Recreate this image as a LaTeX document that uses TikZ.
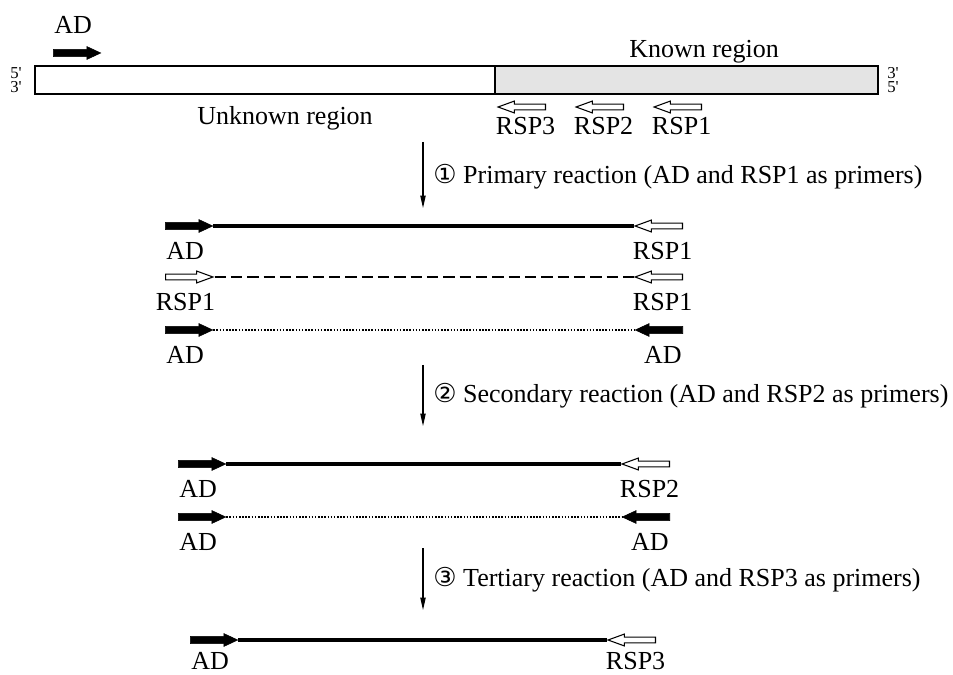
\documentclass[tikz,border=0pt]{standalone}
\usepackage{fontspec}
\setmainfont{Liberation Serif}
\newfontfamily\circfont{DejaVu Sans}
\definecolor{KnownGray}{HTML}{E4E4E4}
\usetikzlibrary{positioning,shapes.arrows,arrows.meta}

\begin{document}
\begin{tikzpicture}[x=0.02cm, y=-0.02cm,
      font=\fontsize{14.8}{17}\selectfont,
      fp/.style={single arrow, draw=black, fill=black, line width=0.3pt, inner xsep=0pt,
        inner ysep=1.9pt, minimum height=27pt, single arrow head extend=1.6pt,
        single arrow tip angle=50, anchor=tail},
      op/.style={single arrow, draw=black, fill=white, line width=0.6pt, inner xsep=0pt,
        inner ysep=1.3pt, minimum height=27pt, single arrow head extend=1.8pt,
        single arrow tip angle=40, anchor=tail},
      rev/.style={shape border rotate=180},
      t/.style={inner sep=0pt},
      ends/.style={inner sep=0pt, align=center, font=\fontsize{9.5}{8}\selectfont},
      full/.style={line width=2.6pt},
      half/.style={line width=1.1pt, dash pattern=on 6.5pt off 2.8pt},
      dots/.style={line width=0.9pt, dash pattern=on 0.9pt off 0.9pt},
      go/.style={line width=0.6pt, -{Triangle[length=7pt,width=3pt]}}]

  \useasboundingbox (0,0) rectangle (953,675);

  % template
  \draw[line width=0.6pt] (35,66) rectangle (495,94);
  \draw[line width=0.6pt, fill=KnownGray] (495,66) rectangle (878,94);
  \node[ends] (lend) at (16,80) {5\textquotesingle\\3\textquotesingle};
  \node[ends] (rend) at (893,80) {3\textquotesingle\\5\textquotesingle};
  \node[t, anchor=base] (unk) at (285,125) {Unknown region};
  \node[t, anchor=base] (kn) at (704,58) {Known region};

  \node[fp] (ad0) at (53,53) {};
  \node[t, above=11pt of ad0.center] (ad0l) {AD};
  \node[op, rev] (rsp3) at (546,107) {};
  \node[op, rev] (rsp2) at (624,107) {};
  \node[op, rev] (rsp1) at (702,107) {};
  \node[t, below=5.7pt of rsp3.center] (rsp3l) {RSP3};
  \node[t, below=5.7pt of rsp2.center] (rsp2l) {RSP2};
  \node[t, below=5.7pt of rsp1.center] (rsp1l) {RSP1};

  % primary
  \coordinate (s1) at (423,142);
  \coordinate (e1) at (423,208);
  \draw[go] (s1) -- (e1);
  \node[t, anchor=west] (st1) at (433,177) {{\circfont ①} Primary reaction (AD and RSP1 as primers)};

  \node[fp] (a1) at (165,226) {};
  \node[op, rev] (b1) at (683,226) {};
  \draw[full] (a1.tip) -- (b1.tip);
  \node[t, below=9.3pt of a1.center] (a1l) {AD};
  \node[t, below=9.3pt of b1.center] (b1l) {RSP1};

  \node[op] (a2) at (165,277) {};
  \node[op, rev] (b2) at (683,277) {};
  \draw[half] (a2.tip) -- (b2.tip);
  \node[t, below=9.3pt of a2.center] (a2l) {RSP1};
  \node[t, below=9.3pt of b2.center] (b2l) {RSP1};

  \node[fp] (a3) at (165,330) {};
  \node[fp, rev] (b3) at (683,330) {};
  \draw[dots] (a3.tip) -- (b3.tip);
  \node[t, below=9.3pt of a3.center] (a3l) {AD};
  \node[t, below=9.3pt of b3.center] (b3l) {AD};

  % secondary
  \coordinate (s2) at (423,365);
  \coordinate (e2) at (423,426);
  \draw[go] (s2) -- (e2);
  \node[t, anchor=west] (st2) at (433,396) {{\circfont ②} Secondary reaction (AD and RSP2 as primers)};

  \node[fp] (a4) at (178,464) {};
  \node[op, rev] (b4) at (670,464) {};
  \draw[full] (a4.tip) -- (b4.tip);
  \node[t, below=9pt of a4.center] (a4l) {AD};
  \node[t, below=9pt of b4.center] (b4l) {RSP2};

  \node[fp] (a5) at (178,517) {};
  \node[fp, rev] (b5) at (670,517) {};
  \draw[dots] (a5.tip) -- (b5.tip);
  \node[t, below=9pt of a5.center] (a5l) {AD};
  \node[t, below=9pt of b5.center] (b5l) {AD};

  % tertiary
  \coordinate (s3) at (423,548);
  \coordinate (e3) at (423,610);
  \draw[go] (s3) -- (e3);
  \node[t, anchor=west] (st3) at (433,580) {{\circfont ③} Tertiary reaction (AD and RSP3 as primers)};

  \node[fp] (a6) at (190,640) {};
  \node[op, rev] (b6) at (656,640) {};
  \draw[full] (a6.tip) -- (b6.tip);
  \node[t, below=6.6pt of a6.center] (a6l) {AD};
  \node[t, below=6.6pt of b6.center] (b6l) {RSP3};
\end{tikzpicture}
\end{document}
